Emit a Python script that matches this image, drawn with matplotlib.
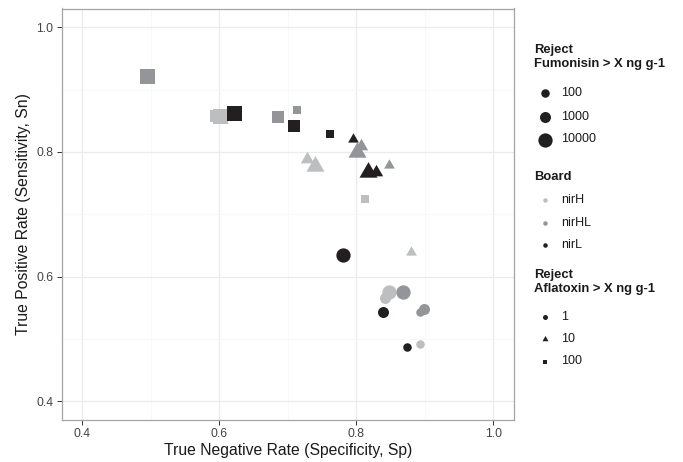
import matplotlib
matplotlib.use("Agg")
import matplotlib.pyplot as plt
from matplotlib.ticker import MultipleLocator

plt.rcParams['font.family'] = ['Liberation Sans', 'DejaVu Sans']

# ---------------- data ----------------
board = ['nirL', 'nirL', 'nirL', 'nirH', 'nirH', 'nirH', 'nirHL', 'nirHL', 'nirHL',
         'nirL', 'nirHL', 'nirHL', 'nirHL', 'nirH', 'nirH', 'nirH', 'nirL', 'nirL',
         'nirHL', 'nirHL', 'nirHL', 'nirH', 'nirH', 'nirH', 'nirL', 'nirL', 'nirL']
aflatoxin = [1, 1, 1, 1, 1, 1, 1, 1, 1,
             10, 10, 10, 10, 10, 10, 10, 10, 10,
             100, 100, 100, 100, 100, 100, 100, 100, 100]
fumonisin = [10000, 1000, 100, 1000, 10000, 100, 10000, 1000, 100,
             100, 10000, 1000, 100, 1000, 10000, 100, 10000, 1000,
             10000, 1000, 100, 1000, 10000, 100, 10000, 1000, 100]
specificity = [0.781, 0.839, 0.874, 0.842, 0.847, 0.893, 0.868, 0.898, 0.893,
               0.795, 0.801, 0.807, 0.847, 0.728, 0.740, 0.879, 0.817, 0.829,
               0.495, 0.686, 0.713, 0.595, 0.601, 0.812, 0.621, 0.709, 0.761]
sensitivity = [0.634, 0.543, 0.487, 0.566, 0.576, 0.492, 0.576, 0.548, 0.543,
               0.820, 0.800, 0.809, 0.779, 0.789, 0.778, 0.640, 0.768, 0.767,
               0.922, 0.856, 0.868, 0.858, 0.857, 0.725, 0.862, 0.842, 0.828]

board_levels = ['nirH', 'nirHL', 'nirL']
afla_levels = [1, 10, 100]
fum_levels = [100, 1000, 10000]
x_ticks = [0.4, 0.6, 0.8, 1.0]
y_ticks = [0.4, 0.6, 0.8, 1.0]

# ---------------- styles ----------------
board_color = {'nirH': '#BCBEC0', 'nirHL': '#939598', 'nirL': '#231F20'}
afla_marker = {1: 'o', 10: (3, 0, 0), 100: 's'}
# visual sizes in pixels (circle diameter / square side / triangle circum-diameter)
size_px = {
    1: {100: 8.5, 1000: 11.0, 10000: 14.3},
    10: {100: 12.4, 1000: 15.4, 10000: 20.8},
    100: {100: 8.5, 1000: 11.7, 10000: 15.0},
}
PX2PT = 72.0 / 100.0

W, H = 683, 462
fig = plt.figure(figsize=(W / 100, H / 100), dpi=100)

L, R, T, B = 61.7, 514.0, 8.5, 420.0
ax = fig.add_axes([L / W, 1 - B / H, (R - L) / W, (B - T) / H])
ax.set_xlim(0.37, 1.03)
ax.set_ylim(0.37, 1.03)

for b, a, f, x, y in zip(board, aflatoxin, fumonisin, specificity, sensitivity):
    s = (size_px[a][f] * PX2PT) ** 2
    ax.scatter([x], [y], s=s, marker=afla_marker[a], color=board_color[b],
               linewidths=0, zorder=3)

ax.set_xticks(x_ticks)
ax.set_yticks(y_ticks)
ax.set_xticklabels([f'{v:.1f}' for v in x_ticks])
ax.set_yticklabels([f'{v:.1f}' for v in y_ticks])
ax.xaxis.set_minor_locator(MultipleLocator(0.1))
ax.yaxis.set_minor_locator(MultipleLocator(0.1))
ax.grid(True, which='major', color='#EBEBEB', linewidth=0.9, zorder=0)
ax.grid(True, which='minor', color='#F7F7F7', linewidth=0.6, zorder=0)
ax.set_axisbelow(True)
ax.tick_params(which='major', direction='out', length=3.6, width=0.7,
               color='#333333', labelsize=8.7, labelcolor='#444444', pad=2.5)
ax.tick_params(which='minor', length=0)
for sp in ax.spines.values():
    sp.set_color('#A4A4A4')
    sp.set_linewidth(0.9)

ax.set_xlabel('True Negative Rate (Specificity, Sp)', fontsize=11.3,
              color='#1A1A1A', labelpad=1.5)
ax.set_ylabel('True Positive Rate (Sensitivity, Sn)', fontsize=11.3,
              color='#1A1A1A', labelpad=4)

# ---------------- legends ----------------
lax = fig.add_axes([0, 0, 1, 1])
lax.set_xlim(0, W)
lax.set_ylim(H, 0)
lax.axis('off')

TX = 534
SX = 545
LX = 561
tfs = 9.4
lfs = 9.0

lax.text(TX, 50, 'Reject', fontsize=tfs, fontweight='bold', va='center', ha='left', color='#1A1A1A')
lax.text(TX, 64, 'Fumonisin > X ng g-1', fontsize=tfs, fontweight='bold', va='center', ha='left', color='#1A1A1A')
for lev, yy in zip(fum_levels, [93, 116.5, 139.5]):
    lax.scatter([SX], [yy], s=(size_px[1][lev] * PX2PT) ** 2, marker='o',
                color='#231F20', linewidths=0)
    lax.text(LX, yy, str(lev), fontsize=lfs, va='center', ha='left', color='#1A1A1A')

lax.text(TX, 177, 'Board', fontsize=tfs, fontweight='bold', va='center', ha='left', color='#1A1A1A')
for lev, yy in zip(board_levels, [200, 222.5, 245]):
    lax.scatter([SX], [yy], s=(4.5 * PX2PT) ** 2, marker='o',
                color=board_color[lev], linewidths=0)
    lax.text(LX, yy, lev, fontsize=lfs, va='center', ha='left', color='#1A1A1A')

lax.text(TX, 275, 'Reject', fontsize=tfs, fontweight='bold', va='center', ha='left', color='#1A1A1A')
lax.text(TX, 289, 'Aflatoxin > X ng g-1', fontsize=tfs, fontweight='bold', va='center', ha='left', color='#1A1A1A')
leg_afla_px = {1: 5.0, 10: 7.0, 100: 5.0}
for lev, yy in zip(afla_levels, [316.5, 339, 361.5]):
    lax.scatter([SX], [yy], s=(leg_afla_px[lev] * PX2PT) ** 2, marker=afla_marker[lev],
                color='#231F20', linewidths=0)
    lax.text(LX, yy, str(lev), fontsize=lfs, va='center', ha='left', color='#1A1A1A')

fig.savefig('out.png', dpi=100)
